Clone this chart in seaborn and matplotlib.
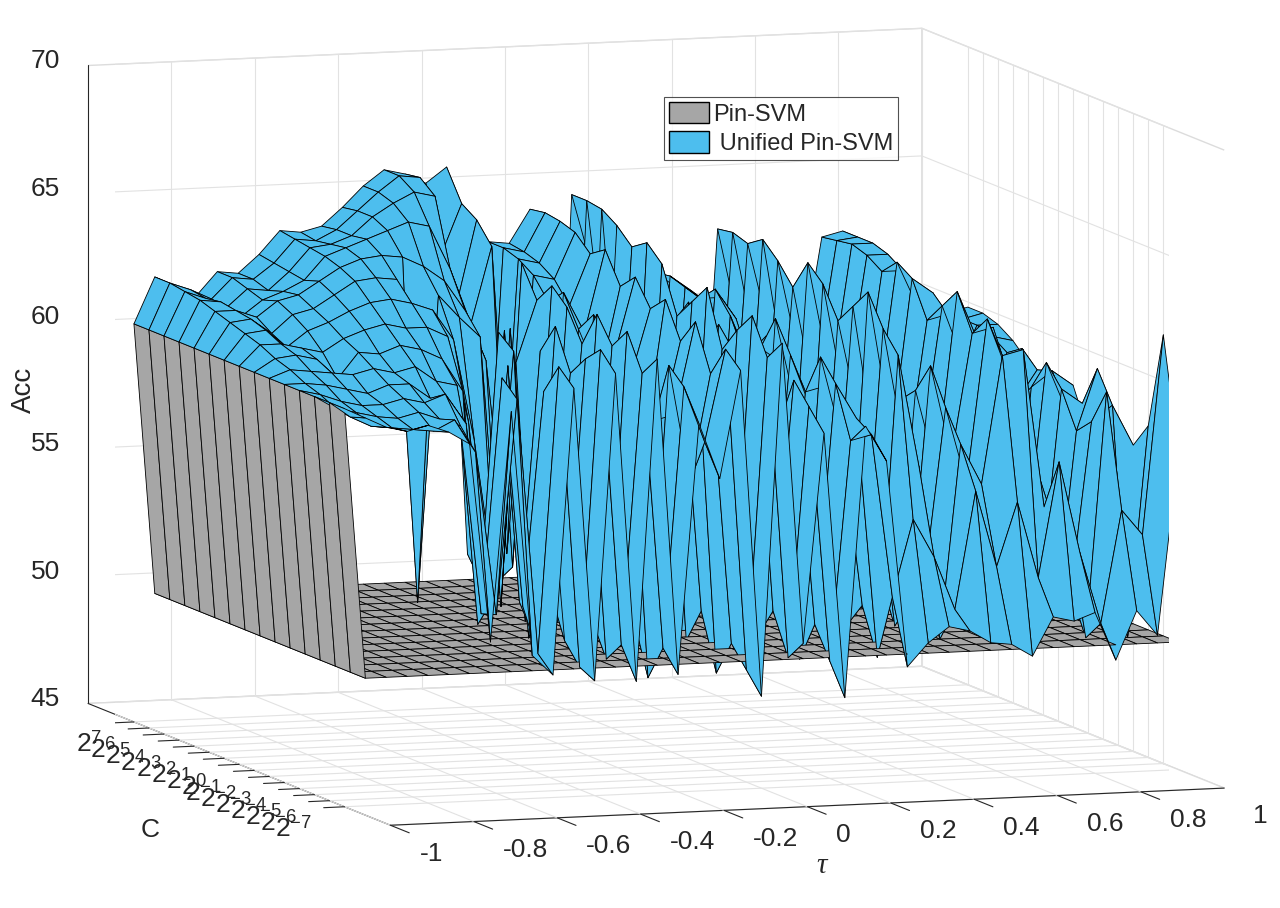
import numpy as np
import matplotlib
matplotlib.use('Agg')
import matplotlib.pyplot as plt
import seaborn as sns
from matplotlib.patches import Patch
from mpl_toolkits.mplot3d import proj3d
from mpl_toolkits.mplot3d.art3d import Poly3DCollection

# tau grid and log2(C) grid
tau = [-1.0, -0.95, -0.9, -0.85, -0.8, -0.75, -0.7, -0.65, -0.6, -0.55,
       -0.5, -0.45, -0.4, -0.35, -0.3, -0.25, -0.2, -0.15, -0.1, -0.05,
       0.0, 0.05, 0.1, 0.15, 0.2, 0.25, 0.3, 0.35, 0.4, 0.45,
       0.5, 0.55, 0.6, 0.65, 0.7, 0.75, 0.8, 0.85, 0.9, 0.95, 1.0]
c_exp = [-7, -6, -5, -4, -3, -2, -1, 0, 1, 2, 3, 4, 5, 6, 7]
c_labels = ['$2^{%d}$' % e for e in c_exp]
tau_ticks = [-1, -0.8, -0.6, -0.4, -0.2, 0, 0.2, 0.4, 0.6, 0.8, 1]
tau_ticklabels = ['-1', '-0.8', '-0.6', '-0.4', '-0.2', '0', '0.2', '0.4', '0.6', '0.8', '1']
acc_ticks = [45, 50, 55, 60, 65, 70]

# Pin-SVM accuracy per tau (same for every C)
pin_svm = [60.6, 50.0, 50.0, 50.0, 50.0, 50.0, 50.0, 50.0, 50.0, 50.0,
           50.0, 50.0, 50.0, 50.0, 50.0, 50.0, 50.0, 50.0, 50.0, 50.0,
           50.0, 50.0, 50.0, 50.0, 50.0, 50.0, 50.0, 50.0, 50.0, 50.0,
           50.0, 50.0, 50.0, 50.0, 50.0, 50.0, 50.0, 50.0, 50.0, 50.0, 50.0]

# Unified Pin-SVM accuracy, one list per tau, C from 2^-7 to 2^7
unified = [
    [60.6, 60.6, 60.6, 60.6, 60.6, 60.6, 60.6, 60.6, 60.6, 60.6, 60.6, 60.6, 60.6, 60.6, 60.6],
    [60.2, 60.0, 60.1, 60.4, 60.6, 60.9, 61.1, 61.4, 61.6, 61.8, 62.0, 62.2, 62.3, 62.4, 62.4],
    [59.8, 59.6, 59.9, 60.1, 60.5, 60.8, 61.2, 61.4, 61.7, 61.9, 62.0, 62.1, 62.0, 62.1, 62.0],
    [59.6, 59.5, 59.7, 59.9, 60.3, 60.7, 61.0, 61.2, 61.0, 61.3, 61.7, 61.5, 61.6, 61.7, 61.6],
    [59.8, 59.4, 59.6, 59.9, 60.1, 60.6, 60.2, 61.0, 61.6, 62.0, 62.3, 62.1, 62.3, 62.5, 62.5],
    [59.5, 59.3, 59.8, 60.1, 60.4, 60.8, 61.2, 61.5, 61.9, 62.2, 62.5, 62.4, 62.2, 62.4, 62.4],
    [59.0, 59.7, 59.5, 59.9, 60.4, 60.6, 61.1, 61.8, 62.3, 62.7, 63.0, 62.8, 62.9, 63.0, 63.1],
    [51.2, 58.4, 59.2, 60.2, 59.8, 60.8, 61.4, 62.0, 62.6, 63.2, 63.5, 63.7, 63.8, 63.9, 64.0],
    [60.2, 52.0, 51.8, 59.0, 59.6, 60.2, 61.2, 61.8, 62.7, 63.3, 63.8, 64.0, 63.9, 63.8, 63.9],
    [50.6, 60.4, 61.0, 51.5, 57.0, 60.0, 60.8, 61.8, 62.5, 63.2, 63.9, 64.3, 64.2, 64.2, 64.1],
    [49.8, 50.4, 52.0, 61.2, 51.8, 50.6, 59.5, 61.4, 62.2, 50.5, 63.8, 64.6, 64.9, 64.9, 64.8],
    [61.0, 61.6, 60.4, 50.5, 61.5, 62.0, 51.0, 58.0, 61.0, 62.5, 63.4, 64.9, 65.4, 65.6, 65.6],
    [49.5, 49.8, 50.6, 52.4, 50.2, 51.4, 61.8, 50.6, 57.0, 61.6, 62.8, 64.7, 65.8, 66.2, 66.2],
    [61.5, 62.2, 61.6, 60.8, 62.4, 61.2, 50.4, 61.6, 51.2, 60.8, 61.6, 63.0, 65.6, 66.1, 66.0],
    [49.4, 50.6, 49.8, 51.2, 50.0, 52.2, 51.0, 50.6, 60.0, 50.2, 59.6, 60.8, 61.2, 63.0, 65.6],
    [62.0, 61.2, 62.6, 61.8, 62.8, 61.4, 62.6, 63.2, 62.4, 63.6, 52.0, 63.8, 64.6, 65.0, 66.2],
    [49.6, 50.4, 49.0, 51.2, 50.0, 52.4, 51.0, 50.2, 49.6, 51.8, 60.8, 51.2, 50.4, 50.0, 51.0],
    [59.4, 60.6, 61.2, 58.8, 60.0, 61.5, 60.8, 62.0, 61.2, 62.4, 61.8, 62.6, 63.0, 63.2, 63.2],
    [57.2, 58.4, 56.6, 59.0, 58.2, 57.4, 59.6, 60.4, 59.2, 60.8, 61.6, 62.4, 62.8, 63.0, 63.1],
    [61.4, 62.0, 60.8, 62.6, 61.6, 63.0, 62.4, 63.4, 62.8, 64.0, 63.6, 64.2, 64.4, 64.5, 64.4],
    [48.6, 49.4, 50.2, 48.8, 51.0, 49.6, 50.4, 52.0, 49.0, 48.2, 50.6, 49.4, 48.0, 47.4, 47.2],
    [62.4, 61.6, 63.0, 62.2, 61.2, 63.4, 62.6, 61.8, 63.6, 64.2, 63.8, 64.4, 64.8, 64.9, 64.9],
    [50.6, 49.8, 51.4, 50.2, 49.0, 51.6, 52.2, 50.4, 49.6, 51.0, 52.8, 53.6, 55.0, 58.0, 61.9],
    [58.8, 59.6, 60.4, 58.4, 61.0, 59.8, 60.6, 61.4, 60.2, 61.8, 60.8, 61.6, 61.2, 61.0, 61.1],
    [48.4, 49.6, 50.8, 49.2, 50.4, 51.6, 50.0, 52.2, 51.0, 49.8, 50.6, 52.4, 51.2, 50.6, 50.3],
    [59.0, 58.2, 60.2, 61.0, 59.4, 60.6, 61.8, 60.4, 59.8, 61.2, 62.0, 61.4, 61.6, 61.8, 61.7],
    [57.6, 58.4, 58.8, 57.8, 59.6, 58.4, 58.2, 59.8, 60.6, 59.2, 60.8, 61.4, 61.0, 61.2, 61.1],
    [49.5, 52.0, 49.4, 51.2, 50.2, 52.0, 50.6, 49.8, 51.4, 52.6, 50.8, 51.6, 52.0, 51.4, 50.8],
    [50.4, 55.0, 61.2, 62.0, 63.2, 62.4, 61.6, 62.8, 63.4, 62.2, 63.0, 63.6, 63.2, 63.4, 63.3],
    [51.0, 53.5, 56.8, 57.4, 58.2, 57.0, 57.8, 58.4, 59.2, 58.0, 59.2, 58.6, 59.8, 59.2, 59.5],
    [50.8, 51.4, 50.0, 52.2, 51.0, 49.8, 51.6, 52.4, 50.8, 51.2, 52.0, 53.4, 54.6, 56.0, 57.0],
    [50.3, 56.0, 57.6, 58.8, 60.2, 59.0, 58.4, 60.0, 59.6, 58.6, 60.4, 59.8, 60.2, 60.0, 59.9],
    [50.2, 53.0, 56.0, 55.8, 56.6, 55.8, 56.4, 55.6, 56.2, 57.0, 56.8, 57.6, 57.6, 57.8, 58.0],
    [49.7, 55.5, 61.0, 62.2, 61.4, 62.8, 62.0, 61.2, 62.6, 63.0, 62.4, 62.8, 63.0, 62.9, 62.8],
    [51.2, 52.5, 61.2, 60.0, 61.6, 60.8, 59.8, 61.4, 62.0, 61.2, 62.4, 62.8, 63.0, 63.0, 63.0],
    [51.0, 57.0, 55.0, 57.2, 56.0, 57.8, 56.4, 55.8, 57.6, 58.4, 57.0, 58.8, 59.6, 60.2, 60.4],
    [51.3, 53.4, 55.0, 54.6, 53.8, 55.6, 54.4, 53.6, 55.2, 56.0, 56.4, 57.6, 58.0, 58.2, 58.8],
    [49.4, 50.6, 49.8, 51.4, 50.2, 51.0, 52.2, 50.8, 51.6, 53.0, 54.6, 56.0, 57.4, 58.0, 58.4],
    [51.3, 55.0, 59.4, 58.0, 57.4, 58.8, 59.6, 58.4, 57.6, 58.2, 57.4, 57.6, 57.8, 57.8, 57.8],
    [50.3, 54.0, 49.7, 58.6, 59.8, 58.2, 57.6, 59.0, 58.8, 59.4, 59.0, 59.4, 59.6, 59.6, 59.6],
    [57.4, 61.8, 58.0, 57.0, 55.8, 57.6, 56.8, 58.4, 57.2, 58.0, 58.6, 59.2, 59.6, 59.8, 59.8],
]

GRAY = '#a6a6a6'
BLUE = '#4dbeee'
INK = '#262626'
GRID = '#e2e2e2'
C_LO, C_HI = -10.05, 10.05
Z_LO, Z_HI = 45, 70

sns.set_theme(style='white')
plt.rcParams['font.family'] = ['Liberation Sans', 'DejaVu Sans']
plt.rcParams['mathtext.fontset'] = 'custom'
plt.rcParams['mathtext.rm'] = 'Liberation Sans'
plt.rcParams['mathtext.it'] = 'Liberation Serif:italic'
plt.rcParams['axes.unicode_minus'] = False

X, Y = np.meshgrid(tau, c_exp)
Z_pin = np.tile(pin_svm, (len(c_exp), 1))
Z_uni = np.array(unified).T


def surface_quads(Z, color):
    polys, cols = [], []
    for i in range(Z.shape[0] - 1):
        for j in range(Z.shape[1] - 1):
            polys.append([(X[i, j], Y[i, j], Z[i, j]),
                          (X[i, j + 1], Y[i, j + 1], Z[i, j + 1]),
                          (X[i + 1, j + 1], Y[i + 1, j + 1], Z[i + 1, j + 1]),
                          (X[i + 1, j], Y[i + 1, j], Z[i + 1, j])])
            cols.append(color)
    return polys, cols


p1, c1 = surface_quads(Z_pin, GRAY)
p2, c2 = surface_quads(Z_uni, BLUE)

fig = plt.figure(figsize=(12.8, 9.08), dpi=100)
ax = fig.add_axes([-0.0785, -0.0657, 1.16, 1.16], projection='3d')
ax.set_proj_type('ortho')
ax.computed_zorder = False

# pane grid, MATLAB style (floor, back wall at C max, side wall at tau = 1)
grid_kw = dict(color=GRID, linewidth=0.8, zorder=1)
for t in tau_ticks:
    ax.plot([t, t], [C_LO, C_HI], [Z_LO, Z_LO], **grid_kw)
    ax.plot([t, t], [C_HI, C_HI], [Z_LO, Z_HI], **grid_kw)
for c in c_exp:
    ax.plot([-1, 1], [c, c], [Z_LO, Z_LO], **grid_kw)
    ax.plot([1, 1], [c, c], [Z_LO, Z_HI], **grid_kw)
for z in acc_ticks:
    ax.plot([-1, 1], [C_HI, C_HI], [z, z], **grid_kw)
    ax.plot([1, 1], [C_LO, C_HI], [z, z], **grid_kw)

# tick marks
tick_kw = dict(color=INK, linewidth=0.8, zorder=2)
for t in tau_ticks:
    ax.plot([t, t], [C_LO, C_LO - 1.25], [Z_LO, Z_LO], **tick_kw)
for c in c_exp:
    ax.plot([-1, -1.05], [c, c], [Z_LO, Z_LO], **tick_kw)
for z in acc_ticks:
    ax.plot([-1, -1], [C_HI, C_HI + 1.3], [z, z], **tick_kw)

coll = Poly3DCollection(p1 + p2, facecolors=c1 + c2, edgecolors='black',
                        linewidths=0.6, zorder=3)
ax.add_collection3d(coll)

ax.set_xlim(-1, 1)
ax.set_ylim(C_LO, C_HI)
ax.set_zlim(Z_LO, Z_HI)
ax.set_box_aspect((1.365, 1.488, 1.0), zoom=1.337)
ax.view_init(elev=7.7, azim=-108.4)

ax.set_xticks([])
ax.set_yticks([])
ax.set_zticks([])
for axis in (ax.xaxis, ax.yaxis, ax.zaxis):
    axis.set_pane_color((1, 1, 1, 1))
    axis.pane.set_edgecolor('#dcdcdc')
    axis.line.set_color(INK)
    axis.line.set_linewidth(0.8)

# project once so the tick labels can sit next to their ticks as plain figure text
fig.canvas.draw()


def label_at(x, y, z, s, **kw):
    px, py, _ = proj3d.proj_transform(x, y, z, ax.M)
    dx, dy = ax.transData.transform((px, py))
    fx, fy = fig.transFigure.inverted().transform((dx, dy))
    fig.text(fx, fy, s, fontsize=19, color=INK, va='center', **kw)


for t, lab in zip(tau_ticks, tau_ticklabels):
    label_at(t, C_LO - 1.93, 44.35, lab, ha='left')
for c, lab in zip(c_exp, c_labels):
    label_at(-1.077, c, 44.19, lab, ha='right')
for z in acc_ticks:
    label_at(-1, C_HI + 1.86, z - 0.28, str(z), ha='right')

fig.text(0.643, 0.047, r'$\tau$', fontsize=21, ha='center', va='center', color=INK)
fig.text(0.117, 0.086, 'C', fontsize=19, ha='center', va='center', color=INK)
fig.text(0.019, 0.571, 'Acc', fontsize=20, ha='center', va='center', rotation=90, color=INK)

handles = [Patch(facecolor=GRAY, edgecolor='black', label='Pin-SVM'),
           Patch(facecolor=BLUE, edgecolor='black', label=' Unified Pin-SVM')]
leg = fig.legend(handles=handles, loc='upper left', bbox_to_anchor=(0.519, 0.893),
                 borderaxespad=0, fontsize=17, frameon=True, fancybox=False, borderpad=0.2,
                 handlelength=1.7, handleheight=1.0, handletextpad=0.15, labelspacing=0.25)
leg.get_frame().set_edgecolor(INK)
leg.get_frame().set_linewidth(0.8)

fig.savefig('out.png', dpi=100)
